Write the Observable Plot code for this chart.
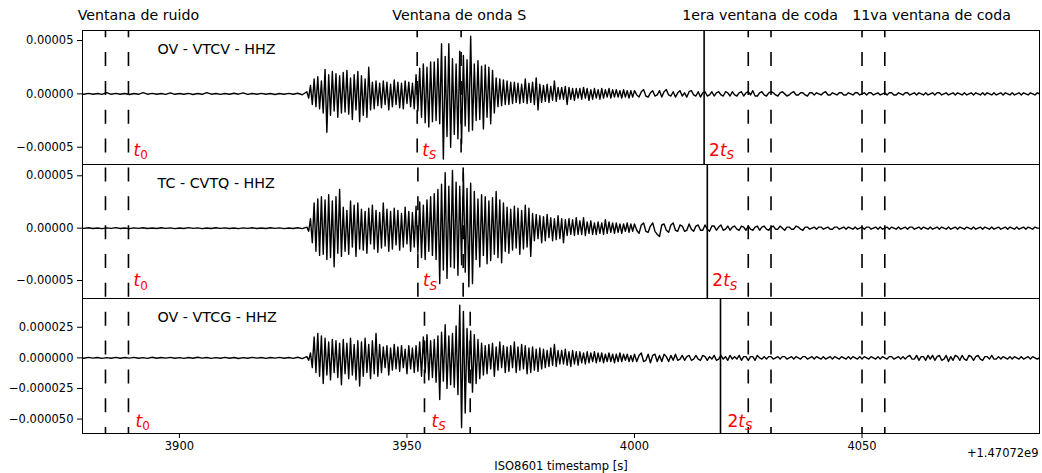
<!DOCTYPE html>
<html><head><meta charset="utf-8">
<script src="https://cdn.jsdelivr.net/npm/d3@7"></script>
<script src="https://cdn.jsdelivr.net/npm/@observablehq/plot@0.6"></script>
<style>
html,body{margin:0;padding:0;background:#fff;}
#chart svg{display:block;}
#chart svg + svg{margin-top:-1px;}
</style></head><body><div id="chart"></div>
<script>
// ---- data ----
const stations = ["OV - VTCV - HHZ", "TC - CVTQ - HHZ", "OV - VTCG - HHZ"];
const windowTitles = ["Ventana de ruido", "Ventana de onda S", "1era ventana de coda", "11va ventana de coda"];
const windowTitleX = [3891.0, 3961.5, 4027.6, 4065.3];
const markerLabels = ["t_0", "t_S", "2t_S"];
const noiseWindow = [3883.75, 3888.8];
const sWindows = [[3952.25, 3961.9], [3952.4, 3962.35], [3953.85, 3963.9]];
const twoTs = [4015.3, 4016.0, 4018.9];
const codaWindows = [4025, 4030, 4050, 4055];
const xTicks = [3900, 3950, 4000, 4050];
const yTicks = [[-5e-5, 0, 5e-5], [-5e-5, 0, 5e-5], [-5e-5, -2.5e-5, 0, 2.5e-5]];
const yDomains = [[-6.62e-5, 5.94e-5], [-6.72e-5, 6.08e-5], [-6.18e-5, 4.85e-5]];
const xDomain = [3878.7, 4089.0];
const labelY = [-5.3e-5, -5.05e-5, -5.2e-5];
const timeOffset = "+1.47072e9";
const xLabel = "ISO8601 timestamp [s]";

// sample times of the three segments (start, step) in s
const preStart = 3878, preStep = 1;
const strongStart = 3928, strongStep = 0.4;
const codaStart = 4000, codaStep = 0.5;

// amplitudes in 1e-6
const vtcvPre = [0.4,-0.3,0.5,-0.4,0.3,-0.5,1.2,-0.4,0.5,-0.3,
 0.4,-0.6,0.3,-0.4,1.1,-0.3,0.5,-0.4,0.3,-0.5,
 1.0,-0.4,0.4,-0.3,0.5,-0.6,0.3,-0.4,1.2,-0.3,
 0.4,-0.5,0.3,-0.4,0.6,-0.3,0.9,-0.5,0.4,-0.3,
 0.5,-0.4,0.3,-0.6,0.4,-0.3,0.5,-0.4,0.6,-0.8];
const vtcvStrong = [2,-4,8,-10,14,-12,16,-14,12,-18,
 23,-36,18,-20,21,-16,19,-22,17,-18,
 20,-17,22,-19,15,-24,18,-15,21,-26,
 17,-20,14,-22,25,-15,11,-14,12,-11,
 10,-13,12,-10,11,-15,9,-12,13,-10,
 11,-13,10,-14,12,-9,11,-12,10,-14,
 18,-16,24,-22,28,-27,25,-31,30,-26,
 30,-25,33,-28,47,-61,35,-40,47,-50,
 33,-38,28,-42,40,-47,36,-30,32,-35,
 54,-34,28,-25,31,-24,26,-33,27,-22,
 25,-28,22,-18,15,-12,14,-11,13,-10,
 12,-10,11,-9,11,-8,10,-9,9,-8,
 14,-9,10,-8,11,-10,15,-15,9,-8,
 8,-7,9,-8,7,-6,12,-7,6,-5,
 6,-5,7,-10,6,-5,5,-6,5,-4,
 5,-5,6,-4,5,-6,4,-5,5,-4,
 4,-5,5,-4,4,-3,5,-4,4,-3,
 4,-3,3,-4,4,-3,3,-4,3,-3];
const vtcvCoda = [3,-1,-3,2,4,-2,-3,1,3,-2,
 -1,3,-3,2,4,-1,-2,2,-3,1,
 3,-2,1,-3,2,3,-1,-2,2,-3,
 1,2,-2,-1,2,-2,1,2,-1,-2,
 2,1,-2,2,-1,-2,1,2,-2,1,
 2,-1,3,-2,-2,1,2,-1,-2,1,
 2,1,-1,-2,1,2,0,-2,-1,1,
 2,-1,-1,1,1,-1,-2,1,1,-1,
 1,0,-1,1,2,-1,-1,1,0,-1,
 1,1,-1,-1,1,0,-1,1,1,-1,
 0,1,-1,1,1,-1,0,1,-1,0,
 1,-1,1,1,-1,-1,1,0,-1,1,
 1,-1,0,1,-1,1,0,-1,1,-1,
 0,1,-1,1,1,-1,0,1,-1,0,
 1,-1,1,0,-1,1,-1,0,1,-1,
 1,0,-1,1,-1,1,0,-1,1,-1,
 0,1,-1,1,0,-1,1,-1,0,1,
 -1,1,0,-1,1,0,-1,1,0];

const cvtqPre = [0.3,-0.2,0.4,-0.3,0.2,-0.4,0.3,-0.2,0.5,-0.3,
 0.2,-0.4,0.3,-0.2,0.4,-0.3,0.2,-0.3,0.4,-0.2,
 0.3,-0.4,0.2,-0.3,0.5,-0.2,0.3,-0.4,0.2,-0.3,
 0.4,-0.2,0.3,-0.3,0.2,-0.4,0.3,-0.2,0.4,-0.3,
 0.2,-0.3,0.4,-0.2,0.3,-0.4,0.2,-0.3,0.4,-0.5];
const cvtqStrong = [1,-3,9,-14,24,-22,28,-26,30,-25,
 27,-30,32,-28,26,-37,30,-24,37,-27,
 20,-22,17,-25,26,-18,22,-27,24,-20,
 18,-21,16,-24,19,-15,22,-20,17,-23,
 15,-19,24,-17,18,-22,16,-20,19,-16,
 17,-21,14,-18,20,-15,16,-22,15,-18,
 21,-24,25,-28,22,-30,27,-22,30,-26,
 33,-30,37,-53,42,-40,53,-48,40,-37,
 55,-38,44,-45,40,-35,53,-42,38,-56,
 43,-53,35,-30,28,-37,32,-26,30,-34,
 26,-31,29,-25,35,-28,27,-33,24,-22,
 20,-24,18,-21,21,-19,19,-25,17,-20,
 22,-18,19,-27,14,-12,13,-10,12,-14,
 11,-12,13,-9,10,-12,9,-11,12,-10,
 9,-14,8,-7,9,-6,8,-7,10,-6,
 7,-6,10,-7,6,-5,7,-6,5,-6,
 6,-5,5,-6,8,-5,6,-4,5,-5,
 5,-4,4,-5,4,-3,5,-4,4,-3];
const cvtqCoda = [4,-2,-5,3,5,-3,-4,2,5,-3,
 -6,-8,3,4,-2,-4,3,5,-2,-3,
 3,2,-3,-2,4,-1,-3,2,3,-2,
 -2,3,-1,-3,2,2,-2,1,3,-2,
 -1,2,-2,1,2,-1,-2,2,1,-2,
 2,-1,-2,1,2,-2,1,2,-1,-2,
 1,2,-1,-1,2,0,-2,1,1,-1,
 -1,2,1,-1,-2,1,1,-1,0,1,
 -1,1,1,-1,0,1,-1,-1,1,1,
 -1,0,1,-1,1,0,-1,1,-1,0,
 1,-1,1,1,-1,0,1,-1,1,-1,
 0,1,-1,1,0,-1,1,-1,0,1,
 -1,1,1,-1,0,1,-1,1,0,-1,
 1,-1,0,1,-1,1,0,-1,1,-1,
 0,1,-1,1,0,-1,1,0,-1,1,
 -1,0,1,-1,1,0,-1,1,-1,0,
 1,-1,0,1,-1,1,0,-1,1,-1,
 0,1,-1,1,0,-1,1,0,0];

const vtcgPre = [0.3,-0.3,0.4,-0.2,0.3,-0.4,0.2,-0.3,0.4,-0.3,
 0.3,-0.2,0.4,-0.3,0.2,-0.4,0.5,-0.3,0.3,-0.2,
 0.4,-0.3,0.2,-0.4,0.3,-0.3,0.5,-0.2,0.3,-0.4,
 0.2,-0.3,0.4,-0.3,0.3,-0.5,0.2,-0.3,0.4,-0.2,
 0.3,-0.4,0.3,-0.2,0.4,-0.3,0.3,-0.4,0.5,-0.6];
const vtcgStrong = [1,-2,4,-8,17,-12,20,-15,18,-21,
 16,-14,13,-18,15,-12,14,-16,12,-22,
 15,-13,12,-17,16,-14,11,-18,14,-23,
 13,-15,16,-12,11,-17,14,-13,20,-15,
 11,-12,9,-8,10,-14,8,-10,11,-9,
 9,-11,10,-8,7,-13,10,-9,8,-12,
 10,-11,13,-15,17,-12,19,-18,14,-16,
 15,-20,18,-34,21,-19,27,-25,18,-22,
 20,-24,26,-30,43,-57,38,-45,24,-20,
 22,-28,19,-21,15,-17,12,-14,10,-13,
 11,-9,12,-15,9,-10,13,-8,10,-12,
 9,-11,10,-8,13,-12,9,-10,11,-9,
 10,-13,8,-12,9,-10,7,-11,8,-9,
 7,-8,6,-7,8,-6,11,-7,6,-5,
 6,-5,7,-6,5,-7,6,-5,5,-6,
 5,-4,4,-5,5,-4,4,-3,5,-4,
 4,-3,4,-4,3,-3,4,-3,3,-4,
 3,-3,4,-3,3,-2,3,-3,2,-3];
const vtcgCoda = [3,-3,2,4,-3,-2,3,-4,2,3,
 -3,2,-3,3,1,-3,2,-2,3,-2,
 -1,2,-2,1,2,-2,-1,2,-1,-2,
 2,1,-2,1,-1,2,-2,-1,2,-1,
 1,-2,2,-1,1,-1,2,-2,1,1,
 -2,1,1,-2,2,0,-1,1,-1,1,
 1,-1,0,1,-1,1,1,-1,0,1,
 -1,1,0,-1,1,1,-1,0,1,-1,
 1,0,-1,1,-1,0,1,-1,1,0,
 -1,1,0,-1,1,-1,1,0,-1,1,
 -1,1,0,-1,1,0,-1,1,-1,1,
 0,-1,1,1,-1,0,1,-1,1,-1,
 1,2,-1,-1,2,-2,1,1,-2,2,
 -1,2,-2,1,2,-2,-1,2,-3,1,
 -2,2,1,-2,2,-1,-2,2,1,-2,
 1,2,-1,-2,1,1,-1,2,-1,-1,
 1,-1,1,0,-1,1,-1,1,0,-1,
 1,-1,0,1,-1,1,0,-1,0];

// ---- build ----
function buildTrace(pre, strong, coda) {
  const rows = [];
  pre.forEach((v, i) => rows.push({t: preStart + i * preStep, v: v * 1e-6}));
  strong.forEach((v, i) => rows.push({t: strongStart + i * strongStep, v: v * 1e-6}));
  coda.forEach((v, i) => rows.push({t: codaStart + i * codaStep, v: v * 1e-6}));
  return rows;
}
const traces = [
  buildTrace(vtcvPre, vtcvStrong, vtcvCoda),
  buildTrace(cvtqPre, cvtqStrong, cvtqCoda),
  buildTrace(vtcgPre, vtcgStrong, vtcgCoda)
];

function mathify(svg) {
  d3.select(svg).selectAll("text").each(function() {
    const m = /^(\d*)([a-zA-Z])_(\w)$/.exec(this.textContent);
    if (!m) return;
    const t = d3.select(this);
    t.text(null);
    if (m[1]) t.append("tspan").text(m[1]);
    t.append("tspan").attr("font-style", "italic").text(m[2]);
    t.append("tspan").attr("font-size", "12px").attr("dy", 3.5)
      .attr("font-style", /\d/.test(m[3]) ? "normal" : "italic").text(m[3]);
  });
}

const chart = document.getElementById("chart");
const heights = [165, 135, 175];
const marginTops = [30, 0, 0];
const marginBottoms = [1, 1, 40];
const pageTops = [30, 164, 298];
const labelDx = [5, 5, 7];
const dashOn = 14, dashPeriod = 28.85, dashStart = 23.2;

for (let p = 0; p < 3; p++) {
  const isBottom = p === 2;
  const dashedX = [...noiseWindow, ...sWindows[p], ...codaWindows];
  const dashOffset = (((pageTops[p] - dashStart) % dashPeriod) + dashPeriod) % dashPeriod;
  const labRows = markerLabels.map((s, i) => ({s, x: [noiseWindow[1], sWindows[p][0], twoTs[p]][i]}));
  const marks = [
    Plot.line(traces[p], {x: "t", y: "v", stroke: "black", strokeWidth: 1.4, clip: true}),
    Plot.ruleX(dashedX, {stroke: "black", strokeWidth: 1.6, strokeDasharray: `${dashOn},${dashPeriod - dashOn}`, strokeDashoffset: dashOffset}),
    Plot.ruleX([twoTs[p]], {stroke: "black", strokeWidth: 1.6}),
    Plot.text([stations[p]], {frameAnchor: "top-left", dx: 75, dy: 18.5, text: d => d, textAnchor: "start", lineAnchor: "middle", fontSize: 14.3, fill: "black"}),
    Plot.text(labRows, {x: "x", y: () => labelY[p], text: "s", dx: labelDx[p], textAnchor: "start", lineAnchor: "middle", fill: "red", fontSize: 17}),
    Plot.frame({stroke: "black", strokeWidth: 1})
  ];
  if (p === 0) {
    marks.push(Plot.text(windowTitles, {x: (d, i) => windowTitleX[i], frameAnchor: "top", dy: -15.5, text: d => d, textAnchor: "middle", lineAnchor: "middle", fontSize: 14.2, fill: "black"}));
  }
  if (isBottom) {
    marks.push(Plot.text([xLabel], {frameAnchor: "bottom", dy: 33, text: d => d, lineAnchor: "middle", fontSize: 11.5, fill: "black"}));
    marks.push(Plot.text([timeOffset], {frameAnchor: "bottom-right", dy: 19.5, dx: -1, text: d => d, textAnchor: "end", lineAnchor: "middle", fontSize: 11.5, fill: "black"}));
  }
  const svg = Plot.plot({
    width: 1042,
    height: heights[p],
    marginLeft: 82,
    marginRight: 3,
    marginTop: marginTops[p],
    marginBottom: marginBottoms[p],
    style: {fontFamily: "DejaVu Sans", fontSize: "11.5px", color: "black", background: "white", overflow: "visible"},
    x: isBottom
      ? {domain: xDomain, ticks: xTicks, tickFormat: d => String(d), tickSize: 5, tickPadding: 3, label: null}
      : {domain: xDomain, axis: null},
    y: {domain: yDomains[p], ticks: yTicks[p], tickFormat: d3.format(p === 2 ? ".6f" : ".5f"), tickSize: 5, tickPadding: 4, label: null},
    marks
  });
  mathify(svg);
  chart.appendChild(svg);
}
</script></body></html>
